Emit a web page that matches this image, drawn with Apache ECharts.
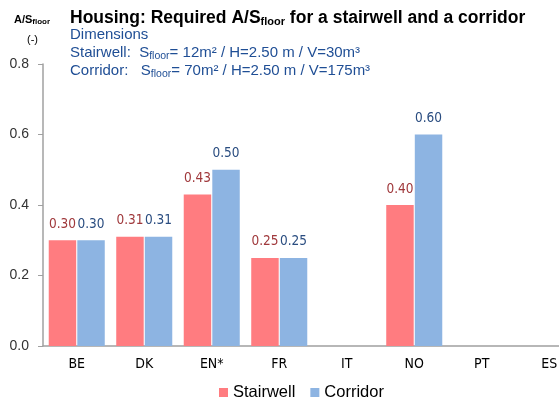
<!DOCTYPE html>
<html>
<head>
<meta charset="utf-8">
<script src="https://cdn.jsdelivr.net/npm/echarts@6/dist/echarts.min.js"></script>
<style>
  html, body { margin: 0; padding: 0; background: #fff; }
  #main { width: 559px; height: 407px; }
</style>
</head>
<body>
<div id="main"></div>
<script>
var countries = ['BE', 'DK', 'EN*', 'FR', 'IT', 'NO', 'PT', 'ES'];
var stairwell = [0.30, 0.31, 0.43, 0.25, null, 0.40, null, null];
var corridor = [0.30, 0.31, 0.50, 0.25, null, 0.60, null, null];
var yTicks = [0, 0.2, 0.4, 0.6, 0.8];

var narrow = "'Liberation Sans Narrow', 'DejaVu Sans Condensed', sans-serif";
var arial = "'Liberation Sans', Arial, sans-serif";

var chart = echarts.init(document.getElementById('main'));

var option = {
    animation: false,
    title: [
        {
            text: '{b|Housing: Required A/S}{bs|floor}{b| for a stairwell and a corridor}',
            left: 65,
            top: 3,
            textStyle: {
                rich: {
                    b: { fontFamily: arial, fontWeight: 'bold', fontSize: 17.5, color: '#000', lineHeight: 20 },
                    bs: { fontFamily: arial, fontWeight: 'bold', fontSize: 11, color: '#000', lineHeight: 20, padding: [8, 0, 0, 0] }
                }
            }
        },
        {
            text: '{t|Dimensions}\n{t|Stairwell:  S}{s|floor}{t|= 12m² / H=2.50 m / V=30m³}\n{t|Corridor:   S}{s|floor}{t|= 70m² / H=2.50 m / V=175m³}',
            left: 65,
            top: 21,
            textStyle: {
                fontWeight: 'normal',
                rich: {
                    t: { fontFamily: arial, fontWeight: 'normal', fontSize: 15, color: '#1F4E95', lineHeight: 18 },
                    s: { fontFamily: arial, fontWeight: 'normal', fontSize: 10.5, color: '#1F4E95', lineHeight: 18, padding: [7, 0, 0, 0] }
                }
            }
        }
    ],
    graphic: [
        {
            type: 'text',
            left: 14,
            top: 13,
            style: {
                text: '{a|A/S}{s|floor}',
                rich: {
                    a: { fontFamily: arial, fontWeight: 'bold', fontSize: 11, fill: '#000', lineHeight: 13 },
                    s: { fontFamily: arial, fontWeight: 'bold', fontSize: 8, fill: '#000', lineHeight: 13, padding: [5, 0, 0, 0] }
                }
            }
        },
        {
            type: 'text',
            left: 27,
            top: 34,
            style: { text: '(-)', font: '11px ' + arial, fill: '#000' }
        }
    ],
    legend: {
        data: ['Stairwell', 'Corridor'],
        left: 214,
        bottom: 1,
        icon: 'rect',
        itemWidth: 9,
        itemHeight: 9,
        itemGap: 15,
        textStyle: { fontFamily: arial, fontSize: 16.5, color: '#000' }
    },
    grid: {
        left: 43,
        width: 540,
        top: 64,
        bottom: 61,
        outerBoundsMode: 'none',
        containLabel: false
    },
    xAxis: {
        type: 'category',
        data: countries,
        axisLine: { lineStyle: { color: '#A0A0A0', width: 1.5 } },
        axisTick: { show: false },
        axisLabel: { fontFamily: narrow, fontSize: 14, color: '#000', margin: 11 }
    },
    yAxis: {
        type: 'value',
        min: 0,
        max: 0.8,
        interval: 0.2,
        axisLine: { show: true, lineStyle: { color: '#A0A0A0', width: 1.5 } },
        axisTick: { show: true, length: 5, lineStyle: { color: '#A0A0A0' } },
        splitLine: { show: false },
        axisLabel: {
            fontFamily: arial,
            fontSize: 14,
            color: '#333',
            margin: 14,
            formatter: function (v) {
                return yTicks.indexOf(Math.round(v * 10) / 10) >= 0 ? v.toFixed(1) : '';
            }
        }
    },
    series: [
        {
            name: 'Stairwell',
            type: 'bar',
            data: stairwell,
            barGap: '4%',
            barCategoryGap: '17%',
            itemStyle: { color: '#FF7C80' },
            label: {
                show: true,
                position: 'top',
                distance: 9,
                fontFamily: narrow,
                fontSize: 13.5,
                color: '#A0393C',
                formatter: function (p) { return p.value.toFixed(2); }
            }
        },
        {
            name: 'Corridor',
            type: 'bar',
            data: corridor,
            itemStyle: { color: '#8DB4E2' },
            label: {
                show: true,
                position: 'top',
                distance: 9,
                fontFamily: narrow,
                fontSize: 13.5,
                color: '#2A4D80',
                formatter: function (p) { return p.value.toFixed(2); }
            }
        }
    ]
};

chart.setOption(option);
</script>
</body>
</html>
